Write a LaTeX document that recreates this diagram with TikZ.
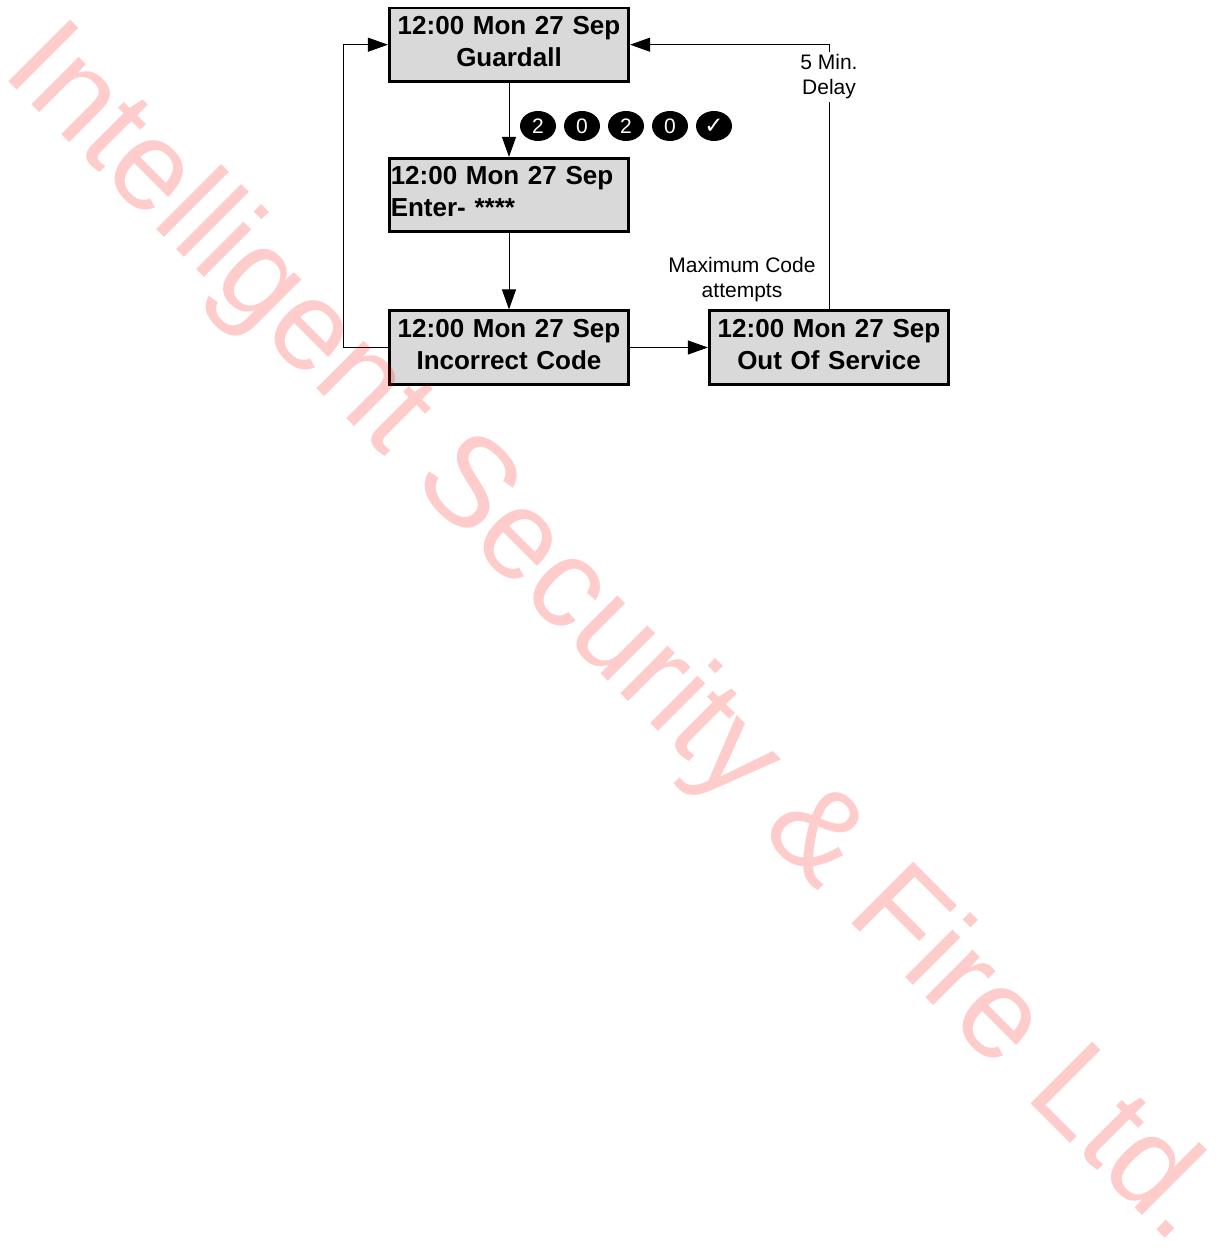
\documentclass[tikz,border=0pt]{standalone}
\usepackage{fontspec}
\setmainfont{Liberation Sans}
\newfontfamily\dejavu{DejaVu Sans}
\usetikzlibrary{arrows.meta,shapes.geometric}
\definecolor{boxgray}{RGB}{217,217,217}
\begin{document}
\begin{tikzpicture}[x=1pt,y=-1pt,
  lcd/.style={draw=black, line width=2.7pt, fill=boxgray, minimum height=73.5pt,
    text width=239.5pt, inner xsep=0pt, inner ysep=0pt, text depth=39pt,
    font=\fontsize{26}{32}\selectfont\bfseries, align=center},
  keycap/.style={ellipse, fill=black, text=white, minimum width=36pt, minimum height=30pt,
    inner sep=0pt, font=\fontsize{21}{25}\selectfont},
  note/.style={align=center, font=\fontsize{21}{25}\selectfont, inner sep=3pt},
  link/.style={line width=1pt, -{Triangle[length=20pt,width=14pt]}},
  plainline/.style={line width=1pt}]
\useasboundingbox (0,0) rectangle (1218,1252);

\node[lcd] (b1) at (509,44.7) {12:00 Mon 27 Sep\\Guardall};
\node[lcd, align=left, text width=236.5pt, inner xsep=1.5pt] (b2) at (509,195) {12:00 Mon 27 Sep\\Enter- ****};
\node[lcd] (b3) at (509,347.5) {12:00 Mon 27 Sep\\Incorrect Code};
\node[lcd] (b4) at (829,347.5) {12:00 Mon 27 Sep\\Out Of Service};

\node[keycap] (k1) at (538,126) {2};
\node[keycap] (k2) at (582,126) {0};
\node[keycap] (k3) at (626,126) {2};
\node[keycap] (k4) at (670,126) {0};
\node[keycap, font=\dejavu\fontsize{23}{26}\selectfont\bfseries] (k5) at (714,126) {✓};

\node[note] (max) at (742,280) {Maximum Code\\attempts};
\node[note] (delay) at (829,77) {5 Min.\\Delay};

\coordinate (lp) at (343,347.5);

\draw[link] (b1) -- (b2);
\draw[link] (b2) -- (b3);
\draw[link] (b3) -- (b4);
\draw[link] (b3.west) -- (lp) |- (b1.west);
\draw[plainline] (b4.north) -- (delay.south);
\draw[link] (delay.north) |- (b1.east);

\node[anchor=base west, rotate=-45, text=red, text opacity=0.2,
  font=\fontsize{127}{127}\selectfont, inner sep=0pt] (wm) at (0.7,73.4)
  {Intelligent Security \& Fire Ltd.};
\end{tikzpicture}
\end{document}
